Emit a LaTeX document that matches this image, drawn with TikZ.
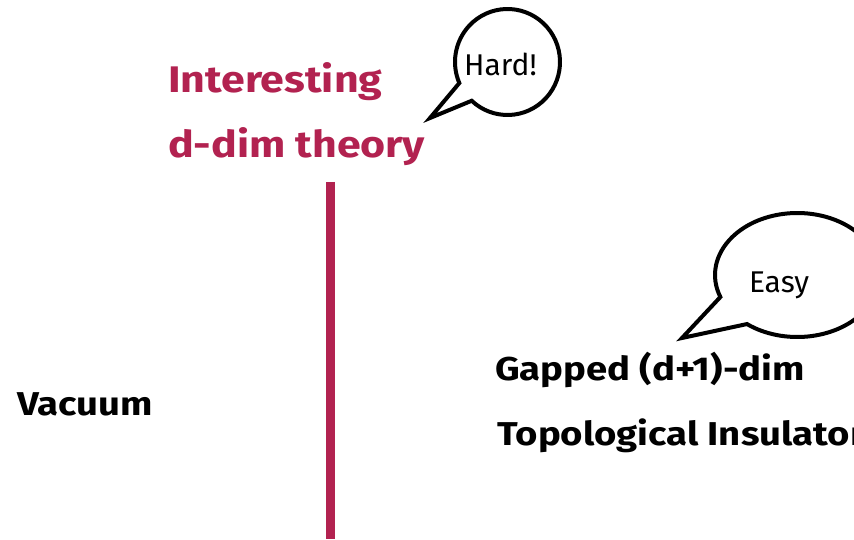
\documentclass[tikz,border=0pt]{standalone}
\usepackage{fontspec}
\setmainfont{Fira Sans}
\newfontfamily\widef{Fira Sans}[FakeStretch=1.16]
\definecolor{crim}{RGB}{178,34,80}
\begin{document}
\begin{tikzpicture}[x=1pt,y=1pt,
  big/.style={font=\widef\bfseries\fontsize{33}{36}\selectfont, inner sep=0pt, anchor=base west},
  title/.style={font=\widef\bfseries\fontsize{37}{40}\selectfont, inner sep=0pt, anchor=base west, text=crim},
  bubtext/.style={font=\fontsize{30}{32}\selectfont, inner sep=0pt, anchor=base},
  bubble/.style={draw=black, line width=4pt, fill=white, line join=miter}]
\useasboundingbox (0,0) rectangle (854,539);
\clip (0,0) rectangle (854,539);
\fill[white] (0,0) rectangle (854,539);
% titles
\node[title] (int) at (168,446) {Interesting};
\node[title] (ddim) at (168,381) {d-dim theory};
% red line
\coordinate (ltop) at (330,357);
\coordinate (lbot) at (330,0);
\draw[crim, line width=9pt] (ltop) -- (lbot);
% labels
\node[big] (vac) at (17,124) {Vacuum};
\node[big] (gap) at (495,159) {Gapped (d+1)-dim};
\node[big] (topo) at (497,94) {Topological Insulator};
% Hard bubble
\coordinate (hc) at (507.5,477);
\coordinate (htip) at (430,421);
\draw[bubble] (hc) ++(227:52.5 and 53) arc[start angle=227, end angle=563.4, x radius=52.5, y radius=53] -- (htip) -- cycle;
\node[bubtext] (hard) at (500.5,463) {Hard!};
% Easy bubble
\coordinate (ec) at (797.3,264);
\coordinate (etip) at (682,201);
\draw[bubble] (ec) ++(232.3:82.3 and 62) arc[start angle=232.3, end angle=560.8, x radius=82.3, y radius=62] -- (etip) -- cycle;
\node[bubtext] (easy) at (779,247) {Easy};
\end{tikzpicture}
\end{document}
